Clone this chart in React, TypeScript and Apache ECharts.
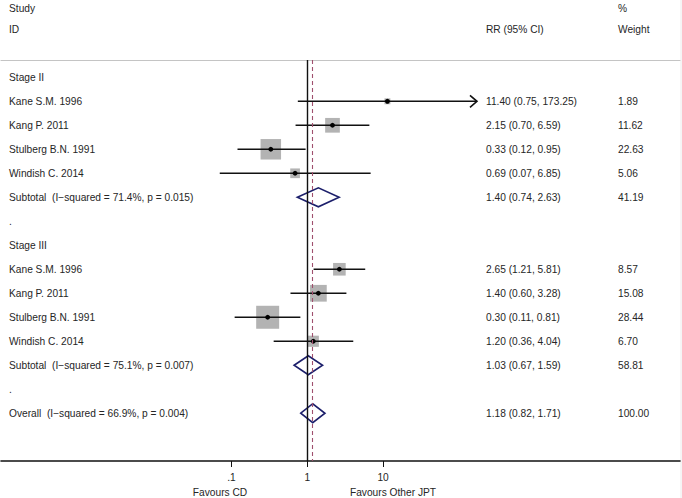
import React, { useEffect, useRef } from "react";
import * as echarts from "echarts";

// ---- data ----
const studyNames = ["Kane S.M. 1996", "Kang P. 2011", "Stulberg B.N. 1991", "Windish C. 2014"];

const stage2RR = [11.4, 2.15, 0.33, 0.69];
const stage2Lo = [0.75, 0.7, 0.12, 0.07];
const stage2Hi = [173.25, 6.59, 0.95, 6.85];
const stage2Weight = [1.89, 11.62, 22.63, 5.06];

const stage3RR = [2.65, 1.4, 0.3, 1.2];
const stage3Lo = [1.21, 0.6, 0.11, 0.36];
const stage3Hi = [5.81, 3.28, 0.81, 4.04];
const stage3Weight = [8.57, 15.08, 28.44, 6.7];

const subgroupNames = ["Stage II", "Stage III"];
const subtotalLabels = [
  "Subtotal  (I\u2212squared = 71.4%, p = 0.015)",
  "Subtotal  (I\u2212squared = 75.1%, p = 0.007)",
];
const subtotalRR = [1.4, 1.03];
const subtotalLo = [0.74, 0.67];
const subtotalHi = [2.63, 1.59];
const subtotalWeight = [41.19, 58.81];

const overallLabel = "Overall  (I\u2212squared = 66.9%, p = 0.004)";
const overallRR = 1.18;
const overallLo = 0.82;
const overallHi = 1.71;
const overallWeight = 100.0;

const tickValues = [0.1, 1, 10];
const tickLabels = [".1", "1", "10"];
const favoursLeft = "Favours CD";
const favoursRight = "Favours Other JPT";

// ---- rows ----
type Row = {
  kind: "header" | "study" | "summary" | "blank";
  label: string;
  rr?: number;
  lo?: number;
  hi?: number;
  w?: number;
};

function buildRows(): Row[] {
  const rows: Row[] = [];
  const groups = [
    { rr: stage2RR, lo: stage2Lo, hi: stage2Hi, w: stage2Weight },
    { rr: stage3RR, lo: stage3Lo, hi: stage3Hi, w: stage3Weight },
  ];
  groups.forEach((g, gi) => {
    rows.push({ kind: "header", label: subgroupNames[gi] });
    studyNames.forEach((n, i) => {
      rows.push({ kind: "study", label: n, rr: g.rr[i], lo: g.lo[i], hi: g.hi[i], w: g.w[i] });
    });
    rows.push({
      kind: "summary",
      label: subtotalLabels[gi],
      rr: subtotalRR[gi],
      lo: subtotalLo[gi],
      hi: subtotalHi[gi],
      w: subtotalWeight[gi],
    });
    rows.push({ kind: "blank", label: "." });
  });
  rows.push({ kind: "summary", label: overallLabel, rr: overallRR, lo: overallLo, hi: overallHi, w: overallWeight });
  return rows;
}

const FONT = "'Liberation Sans', Arial, Helvetica, sans-serif";
const TEXT_COLOR = "#262626";
const FS = 10.2;
const COL_NAME = 9;
const COL_CI = 486;
const COL_W = 618;
const ARROW_CUTOFF = 100;

export default function App() {
  const ref = useRef<HTMLDivElement>(null);

  useEffect(() => {
    document.body.style.margin = "0";
    if (!ref.current) return;
    const chart = echarts.init(ref.current, undefined, { renderer: "svg" });
    const rows = buildRows();
    const lg = (v: number) => Math.log10(v);
    const f2 = (v: number) => v.toFixed(2);

    const textData = rows.map((r, i) => [0, i]);
    const studyData: number[][] = [];
    const diamondData: number[][] = [];
    rows.forEach((r, i) => {
      if (r.kind === "study") studyData.push([lg(r.rr!), i, lg(r.lo!), lg(r.hi!), r.w!, r.hi!]);
      if (r.kind === "summary") diamondData.push([lg(r.rr!), i, lg(r.lo!), lg(r.hi!)]);
    });

    const txt = (text: string, x: number, y: number, align = "left") => ({
      type: "text",
      x,
      y,
      style: {
        text,
        fill: TEXT_COLOR,
        fontSize: FS,
        fontFamily: FONT,
        textAlign: align,
        textVerticalAlign: "middle",
        align,
        verticalAlign: "middle",
      },
    });

    const option: any = {
      animation: false,
      grid: { left: 1, right: 2, top: 60, bottom: 37 },
      xAxis: [
        {
          type: "value",
          min: -4.041,
          max: 4.917,
          position: "bottom",
          splitLine: { show: false },
          axisLine: { show: true, onZero: false, lineStyle: { color: "#111", width: 1.6 } },
          axisTick: {
            show: true,
            customValues: tickValues.map(lg),
            length: 6,
            lineStyle: { color: "#111", width: 1 },
          },
          axisLabel: {
            show: true,
            customValues: tickValues.map(lg),
            margin: 11,
            fontSize: FS,
            fontFamily: FONT,
            color: TEXT_COLOR,
            formatter: (v: number) => {
              let best = 0;
              tickValues.forEach((t, k) => {
                if (Math.abs(lg(t) - v) < Math.abs(lg(tickValues[best]) - v)) best = k;
              });
              return tickLabels[best];
            },
          },
        },
        {
          type: "value",
          min: -4.041,
          max: 4.917,
          position: "top",
          splitLine: { show: false },
          axisLine: { show: true, onZero: false, lineStyle: { color: "#c4c4c4", width: 1.2 } },
          axisTick: { show: false },
          axisLabel: { show: false },
        },
      ],
      yAxis: {
        type: "value",
        inverse: true,
        min: -0.721,
        max: 15.99,
        show: false,
        splitLine: { show: false },
      },
      series: [
        {
          type: "line",
          data: [],
          z: 1,
          markLine: {
            silent: true,
            symbol: ["none", "none"],
            label: { show: false },
            animation: false,
            data: [
              { xAxis: 0, lineStyle: { color: "#111", width: 1.4, type: "solid" } },
              { xAxis: lg(overallRR), lineStyle: { color: "#a0506e", width: 1.1, type: [4, 3] } },
            ],
          },
        },
        {
          type: "custom",
          z: 3,
          clip: false,
          data: textData,
          renderItem: (params: any, api: any) => {
            const i = api.value(1);
            const r = rows[i];
            const y = api.coord([0, i])[1];
            const children: any[] = [txt(r.label, COL_NAME, y)];
            if (r.kind === "study" || r.kind === "summary") {
              children.push(txt(`${f2(r.rr!)} (${f2(r.lo!)}, ${f2(r.hi!)})`, COL_CI, y));
              children.push(txt(f2(r.w!), COL_W, y));
            }
            return { type: "group", children };
          },
        },
        {
          type: "custom",
          z: 2,
          clip: false,
          data: studyData,
          renderItem: (params: any, api: any) => {
            const row = api.value(1);
            const c = api.coord([api.value(0), row]);
            const lo = api.coord([api.value(2), row]);
            const hi = api.coord([api.value(3), row]);
            const w = api.value(4);
            const side = 4.31 * Math.sqrt(w);
            const children: any[] = [
              {
                type: "rect",
                shape: { x: c[0] - side / 2, y: c[1] - side / 2, width: side, height: side },
                style: { fill: "#b3b3b3" },
              },
              {
                type: "line",
                shape: { x1: lo[0], y1: c[1], x2: hi[0], y2: c[1] },
                style: { stroke: "#111", lineWidth: 1.6 },
              },
              {
                type: "circle",
                shape: { cx: c[0], cy: c[1], r: 2.4 },
                style: { fill: "#000" },
              },
            ];
            if (api.value(5) > ARROW_CUTOFF) {
              children.push({
                type: "polyline",
                shape: {
                  points: [
                    [hi[0] - 7, c[1] - 6],
                    [hi[0], c[1]],
                    [hi[0] - 7, c[1] + 6],
                  ],
                },
                style: { stroke: "#111", lineWidth: 1.6, fill: "none" },
              });
            }
            return { type: "group", children };
          },
        },
        {
          type: "custom",
          z: 4,
          clip: false,
          data: diamondData,
          renderItem: (params: any, api: any) => {
            const row = api.value(1);
            const c = api.coord([api.value(0), row]);
            const lo = api.coord([api.value(2), row]);
            const hi = api.coord([api.value(3), row]);
            const h = 9.5;
            return {
              type: "polygon",
              shape: {
                points: [
                  [lo[0], c[1]],
                  [c[0], c[1] - h],
                  [hi[0], c[1]],
                  [c[0], c[1] + h],
                ],
              },
              style: { fill: "none", stroke: "#1c1f6b", lineWidth: 1.6 },
            };
          },
        },
      ],
      graphic: [
        { ...txt("Study", COL_NAME, 8), z: 10 },
        { ...txt("ID", COL_NAME, 29), z: 10 },
        { ...txt("RR (95% CI)", COL_CI, 29), z: 10 },
        { ...txt("%", COL_W, 8), z: 10 },
        { ...txt("Weight", COL_W, 29), z: 10 },
        { ...txt(favoursLeft, 220, 492, "center"), z: 10 },
        { ...txt(favoursRight, 393, 492, "center"), z: 10 },
        {
          type: "line",
          shape: { x1: 681, y1: 0, x2: 681, y2: 498 },
          style: { stroke: "#ececec", lineWidth: 1 },
        },
      ],
    };

    chart.setOption(option);
    return () => chart.dispose();
  }, []);

  return <div ref={ref} style={{ width: 682, height: 498 }} />;
}
